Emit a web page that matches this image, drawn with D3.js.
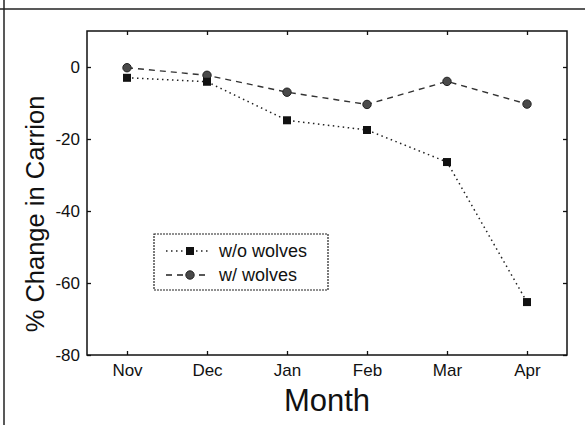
<!DOCTYPE html>
<html>
<head>
<meta charset="utf-8">
<script src="https://cdn.jsdelivr.net/npm/d3@7"></script>
<style>
  body { margin: 0; background: #fff; }
  text { font-family: 'Liberation Sans', Arial, sans-serif; fill: #111; }
</style>
</head>
<body>
<svg id="chart" width="585" height="425"></svg>
<script>
// data
const months = ['Nov', 'Dec', 'Jan', 'Feb', 'Mar', 'Apr']
const withoutWolves = [-3, -4.1, -14.8, -17.5, -26.4, -65.3]
const withWolves = [-0.2, -2.3, -7, -10.4, -4, -10.3]
const yTicks = [-80, -60, -40, -20, 0]

const svg = d3.select('#chart')
const margin = { top: 31, right: 18, bottom: 70, left: 87 }
const width = 585 - margin.left - margin.right
const height = 425 - margin.top - margin.bottom

// outer frame lines
svg.append('line').attr('x1', 0).attr('x2', 585).attr('y1', 9).attr('y2', 9)
  .attr('stroke', '#222').attr('stroke-width', 1.5)
svg.append('line').attr('x1', 4).attr('x2', 4).attr('y1', 0).attr('y2', 425)
  .attr('stroke', '#222').attr('stroke-width', 1.5)

const g = svg.append('g').attr('transform', 'translate(' + margin.left + ',' + margin.top + ')')

const x = d3.scalePoint().domain(months).range([0, width]).padding(0.5)
const y = d3.scaleLinear().domain([-80, 10]).range([height, 0])

function styleAxis (sel) {
  sel.select('.domain').remove()
  sel.selectAll('.tick line').attr('stroke', '#111').attr('stroke-width', 1.3)
  sel.selectAll('.tick text').attr('font-size', 17).attr('fill', '#111')
}

g.append('g').attr('transform', 'translate(0,' + height + ')')
  .call(d3.axisBottom(x).tickSize(-4).tickPadding(9)).call(styleAxis)
g.append('g')
  .call(d3.axisTop(x).tickSize(-4).tickFormat('')).call(styleAxis)
g.append('g')
  .call(d3.axisLeft(y).tickValues(yTicks).tickSize(-4).tickPadding(7)
    .tickFormat(d => String(d))).call(styleAxis)
g.append('g').attr('transform', 'translate(' + width + ',0)')
  .call(d3.axisRight(y).tickValues(yTicks).tickSize(-4).tickFormat('')).call(styleAxis)

g.append('rect').attr('width', width).attr('height', height)
  .attr('fill', 'none').attr('stroke', '#111').attr('stroke-width', 1.5)

const line = d3.line().x((d, i) => x(months[i])).y(d => y(d))

// w/ wolves: dashed, circles
g.append('path').datum(withWolves).attr('d', line)
  .attr('fill', 'none').attr('stroke', '#333').attr('stroke-width', 1.4)
  .attr('stroke-dasharray', '6,5')
g.selectAll('.wolf').data(withWolves).enter().append('circle')
  .attr('class', 'wolf')
  .attr('cx', (d, i) => x(months[i])).attr('cy', d => y(d)).attr('r', 4.2)
  .attr('fill', '#4a4a4a').attr('stroke', '#222').attr('stroke-width', 1)

// w/o wolves: dotted, squares
g.append('path').datum(withoutWolves).attr('d', line)
  .attr('fill', 'none').attr('stroke', '#222').attr('stroke-width', 1.5)
  .attr('stroke-dasharray', '1.5,3.5')
g.selectAll('.nowolf').data(withoutWolves).enter().append('rect')
  .attr('class', 'nowolf')
  .attr('x', (d, i) => x(months[i]) - 4).attr('y', d => y(d) - 4)
  .attr('width', 8).attr('height', 8).attr('fill', '#111')

// legend
const lg = svg.append('g').attr('transform', 'translate(154,234)')
lg.append('rect').attr('width', 174).attr('height', 56)
  .attr('fill', '#fff').attr('stroke', '#222').attr('stroke-width', 1.2)
  .attr('stroke-dasharray', '2,1')
const items = [
  { label: 'w/o wolves', dash: '1.5,3.5', mark: 'square' },
  { label: 'w/ wolves', dash: '6,5', mark: 'circle' }
]
items.forEach((it, i) => {
  const cy = 17 + i * 24
  lg.append('line').attr('x1', 12).attr('x2', 54).attr('y1', cy).attr('y2', cy)
    .attr('stroke', '#222').attr('stroke-width', 1.4).attr('stroke-dasharray', it.dash)
  if (it.mark === 'square') {
    lg.append('rect').attr('x', 32).attr('y', cy - 4).attr('width', 8).attr('height', 8).attr('fill', '#111')
  } else {
    lg.append('circle').attr('cx', 36).attr('cy', cy).attr('r', 4.2)
      .attr('fill', '#4a4a4a').attr('stroke', '#222')
  }
  lg.append('text').attr('x', 65).attr('y', cy).attr('dy', '0.35em')
    .attr('font-size', 18).text(it.label)
})

// axis titles
svg.append('text').attr('x', margin.left + width / 2).attr('y', 411)
  .attr('text-anchor', 'middle').attr('font-size', 31).text('Month')
svg.append('text')
  .attr('transform', 'translate(44,214) rotate(-90)')
  .attr('text-anchor', 'middle').attr('font-size', 25.5).text('% Change in Carrion')
</script>
</body>
</html>
